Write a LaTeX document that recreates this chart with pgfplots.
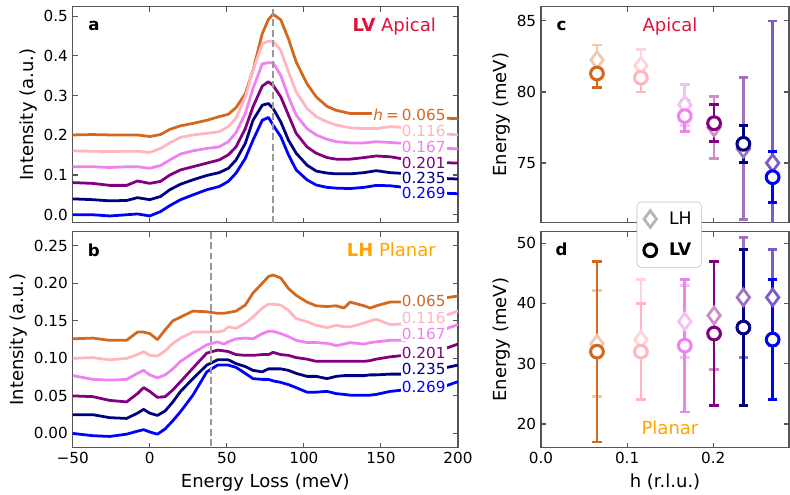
\documentclass[border=0pt]{standalone}
\usepackage{pgfplots}
\pgfplotsset{compat=1.18}
\usepackage{pgfplotstable}
\usepackage{fontspec}
\setmainfont{DejaVu Sans}

\definecolor{cchoc}{HTML}{D2691E}
\definecolor{cpink}{HTML}{FFB6C1}
\definecolor{cviol}{HTML}{EE82EE}
\definecolor{cpurp}{HTML}{800080}
\definecolor{cnavy}{HTML}{000080}
\definecolor{cblue}{HTML}{0000FF}
\definecolor{ccrim}{HTML}{DC143C}
\definecolor{corng}{HTML}{FFA500}
\definecolor{lh1}{HTML}{EFCAB0}
\definecolor{lh2}{HTML}{FFD3DA}
\definecolor{lh3}{HTML}{F5C0F5}
\definecolor{lh4}{HTML}{CE8DC8}
\definecolor{lh5}{HTML}{A173BC}
\definecolor{lh6}{HTML}{7D5BC9}
\definecolor{lhgray}{HTML}{B5B5B5}
\definecolor{frame}{HTML}{555555}

\newcommand{\tickfont}{\fontsize{11}{13}\selectfont}
\newcommand{\labfont}{\fontsize{13}{15}\selectfont}
\newcommand{\legfont}{\fontsize{12.5}{15}\selectfont}
\newcommand{\panfont}{\bfseries\fontsize{12}{14}\selectfont}

\pgfplotstableread{
x     o      p      v      u      n      b
-50 0.201 0.161 0.121 0.081 0.040 0.000
-37 0.202 0.160 0.121 0.079 0.038 0.000
-26 0.201 0.159 0.119 0.074 0.035 -0.003
-15 0.201 0.160 0.121 0.074 0.036 0.000
-8  0.201 0.160 0.121 0.085 0.043 0.002
0   0.197 0.157 0.117 0.079 0.038 -0.003
7   0.202 0.167 0.124 0.084 0.046 0.008
13  0.215 0.181 0.138 0.100 0.063 0.023
20  0.224 0.195 0.153 0.113 0.077 0.038
28  0.230 0.201 0.161 0.121 0.088 0.050
37  0.238 0.205 0.167 0.130 0.099 0.063
45  0.247 0.209 0.171 0.138 0.106 0.071
51  0.253 0.222 0.184 0.151 0.117 0.084
56  0.270 0.243 0.207 0.171 0.138 0.105
62  0.305 0.297 0.255 0.217 0.180 0.142
67  0.364 0.364 0.318 0.272 0.238 0.188
73  0.456 0.431 0.380 0.324 0.276 0.238
77  0.492 0.437 0.383 0.335 0.280 0.245
80  0.505 0.437 0.383 0.326 0.268 0.226
85  0.491 0.414 0.351 0.297 0.234 0.197
90  0.443 0.360 0.297 0.251 0.188 0.151
95  0.385 0.309 0.251 0.205 0.155 0.113
102 0.330 0.268 0.217 0.171 0.125 0.088
108 0.297 0.247 0.201 0.155 0.110 0.075
115 0.273 0.234 0.190 0.144 0.105 0.069
121 0.263 0.226 0.184 0.140 0.103 0.067
130 0.255 0.219 0.181 0.140 0.103 0.066
139 0.255 0.217 0.181 0.144 0.106 0.069
147 0.255 0.217 0.184 0.148 0.111 0.074
156 0.257 0.222 0.182 0.146 0.106 0.073
165 0.255 0.220 0.180 0.140 0.104 0.069
180 0.248 0.210 0.172 0.135 0.097 0.060
193 0.243 0.203 0.167 0.131 0.091 0.054
200 0.242 0.201 0.166 0.130 0.090 0.053
}\apical

\pgfplotstableread{
x     o      p      v      u      n      b
-50 0.126 0.100 0.077 0.050 0.025 0.000
-37 0.127 0.101 0.072 0.049 0.025 -0.003
-26 0.124 0.098 0.071 0.044 0.021 -0.004
-15 0.124 0.100 0.072 0.042 0.020 -0.001
-8  0.135 0.105 0.080 0.053 0.027 0.003
-4  0.135 0.109 0.084 0.061 0.032 0.005
0   0.133 0.104 0.078 0.056 0.027 0.002
5   0.125 0.103 0.074 0.048 0.024 -0.001
10  0.138 0.110 0.078 0.049 0.030 0.006
15  0.150 0.120 0.086 0.058 0.042 0.017
20  0.155 0.127 0.096 0.069 0.056 0.029
28  0.163 0.135 0.107 0.087 0.073 0.051
37  0.162 0.135 0.118 0.107 0.091 0.082
44  0.160 0.135 0.122 0.111 0.098 0.091
48  0.160 0.137 0.119 0.110 0.098 0.091
51  0.161 0.142 0.122 0.109 0.098 0.091
56  0.163 0.140 0.126 0.105 0.093 0.088
62  0.171 0.147 0.127 0.104 0.089 0.080
67  0.187 0.155 0.126 0.104 0.084 0.073
73  0.200 0.167 0.133 0.105 0.082 0.072
77  0.209 0.172 0.136 0.105 0.086 0.072
80  0.211 0.172 0.136 0.108 0.086 0.070
85  0.207 0.171 0.133 0.105 0.086 0.068
90  0.193 0.164 0.129 0.104 0.084 0.065
95  0.184 0.153 0.124 0.101 0.080 0.061
102 0.175 0.149 0.121 0.099 0.076 0.055
108 0.170 0.144 0.121 0.096 0.076 0.055
115 0.169 0.141 0.120 0.096 0.073 0.056
121 0.170 0.144 0.117 0.096 0.076 0.053
126 0.167 0.142 0.119 0.096 0.077 0.052
130 0.175 0.142 0.121 0.096 0.077 0.051
139 0.170 0.147 0.119 0.096 0.077 0.051
143 0.167 0.150 0.121 0.097 0.078 0.051
147 0.170 0.152 0.122 0.099 0.078 0.052
156 0.175 0.145 0.124 0.102 0.079 0.056
165 0.175 0.146 0.124 0.104 0.079 0.058
180 0.178 0.152 0.132 0.110 0.083 0.060
193 0.181 0.158 0.140 0.114 0.088 0.064
200 0.183 0.163 0.145 0.119 0.091 0.069
}\planar

\pgfplotsset{
  base/.style={scale only axis, height=2.16in,
    axis line style={frame, line width=0.8pt},
    every tick/.style={frame, line width=0.8pt},
    major tick length=3.6pt, tick align=inside,
    tick label style={font=\tickfont},
    ylabel near ticks,
    xlabel style={font=\labfont},
    ylabel style={font=\labfont, yshift=-2pt},
    /pgf/number format/assume math mode=true},
  curve/.style={line width=2pt, line join=round, #1},
}

\newcommand{\LHpt}[4]{\addplot[forget plot, only marks, mark=diamond*, mark size=6pt, line width=2pt, color=#1, mark options={draw=#1, fill=white, solid}, error bars/.cd, y dir=both, y explicit, error bar style={#1, line width=2pt}, error mark options={rotate=90, #1, mark size=3.4pt, line width=2pt}] coordinates {(#2,#3) +- (0,#4)};}
\newcommand{\LVpt}[4]{\addplot[forget plot, only marks, mark=*, mark size=4.6pt, line width=2.2pt, color=#1, mark options={draw=#1, fill=white, solid}, error bars/.cd, y dir=both, y explicit, error bar style={#1, line width=2pt}, error mark options={rotate=90, #1, mark size=3.4pt, line width=2pt}] coordinates {(#2,#3) +- (0,#4)};}

\begin{document}
\begin{tikzpicture}
\useasboundingbox (0,0) rectangle (7.9in,4.94in);

% ---------- panel a ----------
\begin{axis}[base, at={(0.727in,2.713in)}, anchor=south west, width=3.853in,
  xmin=-50, xmax=200, ymin=-0.02, ymax=0.524,
  xtick={-50,0,50,100,150,200}, xticklabels={},
  ytick={0,0.1,0.2,0.3,0.4,0.5}, yticklabels={0.0,0.1,0.2,0.3,0.4,0.5},
  ylabel={Intensity (a.u.)}]
\addplot[curve=cchoc] table[x=x,y=o] {\apical};
\addplot[curve=cpink] table[x=x,y=p] {\apical};
\addplot[curve=cviol] table[x=x,y=v] {\apical};
\addplot[curve=cpurp] table[x=x,y=u] {\apical};
\addplot[curve=cnavy] table[x=x,y=n] {\apical};
\addplot[curve=cblue] table[x=x,y=b] {\apical};
\addplot[black!40, line width=1.5pt, dash pattern=on 5pt off 2.5pt] coordinates {(80,-0.1) (80,0.6)};
\node[font=\panfont] at (rel axis cs:0.055,0.91) {a};
\node[anchor=east, text=ccrim, font=\labfont] at (rel axis cs:0.955,0.909) {\textbf{LV} Apical};
\node[anchor=east, fill=white, inner sep=1pt, text=cchoc, font=\tickfont] at (axis cs:193,0.251) {\textit{h}\hspace{0.2em}=\hspace{0.2em}0.065};
\node[anchor=east, fill=white, inner sep=1pt, text=cpink, font=\tickfont] at (axis cs:193,0.211) {0.116};
\node[anchor=east, fill=white, inner sep=1pt, text=cviol, font=\tickfont] at (axis cs:193,0.171) {0.167};
\node[anchor=east, fill=white, inner sep=1pt, text=cpurp, font=\tickfont] at (axis cs:193,0.131) {0.201};
\node[anchor=east, fill=white, inner sep=1pt, text=cnavy, font=\tickfont] at (axis cs:193,0.092) {0.235};
\node[anchor=east, fill=white, inner sep=1pt, text=cblue, font=\tickfont] at (axis cs:193,0.056) {0.269};
\end{axis}

% ---------- panel b ----------
\begin{axis}[base, at={(0.727in,0.463in)}, anchor=south west, width=3.853in,
  xmin=-50, xmax=200, ymin=-0.019, ymax=0.2687,
  xtick={-50,0,50,100,150,200}, xticklabels={−50,0,50,100,150,200},
  ytick={0,0.05,0.1,0.15,0.2,0.25}, yticklabels={0.00,0.05,0.10,0.15,0.20,0.25},
  xlabel={Energy Loss (meV)}, ylabel={Intensity (a.u.)}]
\addplot[curve=cchoc] table[x=x,y=o] {\planar};
\addplot[curve=cpink] table[x=x,y=p] {\planar};
\addplot[curve=cviol] table[x=x,y=v] {\planar};
\addplot[curve=cpurp] table[x=x,y=u] {\planar};
\addplot[curve=cnavy] table[x=x,y=n] {\planar};
\addplot[curve=cblue] table[x=x,y=b] {\planar};
\addplot[black!40, line width=1.5pt, dash pattern=on 5pt off 2.5pt] coordinates {(40,-0.1) (40,0.3)};
\node[font=\panfont] at (rel axis cs:0.055,0.915) {b};
\node[anchor=east, text=corng, font=\labfont] at (rel axis cs:0.955,0.915) {\textbf{LH} Planar};
\node[anchor=east, fill=white, inner sep=1pt, text=cchoc, font=\tickfont] at (axis cs:193,0.1763) {0.065};
\node[anchor=east, fill=white, inner sep=1pt, text=cpink, font=\tickfont] at (axis cs:193,0.154) {0.116};
\node[anchor=east, fill=white, inner sep=1pt, text=cviol, font=\tickfont] at (axis cs:193,0.132) {0.167};
\node[anchor=east, fill=white, inner sep=1pt, text=cpurp, font=\tickfont] at (axis cs:193,0.107) {0.201};
\node[anchor=east, fill=white, inner sep=1pt, text=cnavy, font=\tickfont] at (axis cs:193,0.0853) {0.235};
\node[anchor=east, fill=white, inner sep=1pt, text=cblue, font=\tickfont] at (axis cs:193,0.0621) {0.269};
\end{axis}

% ---------- panel d ----------
\begin{axis}[base, at={(5.41in,0.463in)}, anchor=south west, width=2.48in,
  xmin=0, xmax=0.288, ymin=16.06, ymax=51.9,
  xtick={0,0.1,0.2}, xticklabels={0.0,0.1,0.2},
  ytick={20,30,40,50}, yticklabels={20,30,40,50},
  xlabel={h (r.l.u.)}, ylabel={Energy (meV)}]
\LHpt{lh1}{0.065}{33.3}{8.8}
\LHpt{lh2}{0.116}{34.0}{10}
\LHpt{lh3}{0.167}{37.0}{6}
\LHpt{lh4}{0.201}{38.0}{9}
\LHpt{lh5}{0.235}{41.0}{10}
\LHpt{lh6}{0.269}{41.0}{8}
\LVpt{cchoc}{0.065}{32}{15}
\LVpt{cpink}{0.116}{32}{8}
\LVpt{cviol}{0.167}{33}{11}
\LVpt{cpurp}{0.201}{35}{12}
\LVpt{cnavy}{0.235}{36}{13}
\LVpt{cblue}{0.269}{34}{10}
\node[font=\panfont] at (rel axis cs:0.083,0.918) {d};
\node[text=corng, font=\labfont] at (rel axis cs:0.52,0.094) {Planar};
\end{axis}

% ---------- panel c ----------
\begin{axis}[base, at={(5.41in,2.713in)}, anchor=south west, width=2.48in,
  xmin=0, xmax=0.288, ymin=70.8, ymax=86,
  xtick={0,0.1,0.2}, xticklabels={},
  ytick={75,80,85}, yticklabels={75,80,85},
  ylabel={Energy (meV)},
  legend style={at={(0.386,0.097)}, anchor=north west, draw=black!25, rounded corners=3pt, fill=white,
    font=\legfont, inner xsep=5pt, inner ysep=5pt, row sep=8pt, cells={anchor=west},
    /tikz/every odd column/.append style={column sep=7pt}}]
\LHpt{lh1}{0.065}{82.25}{1.05}
\LHpt{lh2}{0.116}{81.85}{1.15}
\LHpt{lh3}{0.167}{79.1}{1.45}
\LHpt{lh4}{0.201}{77.5}{2.2}
\LHpt{lh5}{0.235}{76.0}{5.0}
\LHpt{lh6}{0.269}{75.0}{10.0}
\LVpt{cchoc}{0.065}{81.3}{1.0}
\LVpt{cpink}{0.116}{81.0}{1.0}
\LVpt{cviol}{0.167}{78.3}{1.1}
\LVpt{cpurp}{0.201}{77.8}{1.3}
\LVpt{cnavy}{0.235}{76.35}{1.3}
\LVpt{cblue}{0.269}{74.0}{1.8}
\addlegendimage{only marks, mark=diamond*, mark size=6pt, line width=2pt, mark options={draw=lhgray, fill=white}}
\addlegendentry{LH}
\addlegendimage{only marks, mark=*, mark size=4.6pt, line width=2.2pt, mark options={draw=black, fill=white}}
\addlegendentry{\textbf{LV}}
\node[font=\panfont] at (rel axis cs:0.083,0.909) {c};
\node[text=ccrim, font=\labfont] at (rel axis cs:0.52,0.91) {Apical};
\end{axis}
\end{tikzpicture}
\end{document}
